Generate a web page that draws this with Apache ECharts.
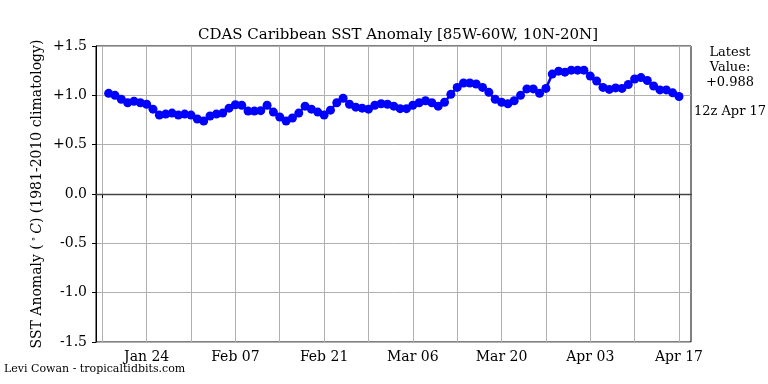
<!DOCTYPE html>
<html>
<head>
<meta charset="utf-8">
<script src="https://cdn.jsdelivr.net/npm/echarts@6/dist/echarts.min.js"></script>
<style>html,body{margin:0;padding:0;background:#fff;}#c{width:768px;height:384px;}</style>
</head>
<body>
<div id="c"></div>
<script>
// Day 0 = Jan 17; values start at day 1 (Jan 18) and end at day 91 (Apr 17)
const firstDay = 1;
const anomaly = [
  1.02, 1.00, 0.96, 0.925, 0.94, 0.925, 0.91, 0.86, 0.80, 0.81,
  0.82, 0.80, 0.81, 0.80, 0.76, 0.74, 0.79, 0.81, 0.82, 0.87,
  0.905, 0.90, 0.84, 0.84, 0.845, 0.90, 0.83, 0.78, 0.74, 0.77,
  0.82, 0.89, 0.86, 0.83, 0.80, 0.85, 0.925, 0.97, 0.91, 0.88,
  0.87, 0.86, 0.90, 0.915, 0.91, 0.89, 0.865, 0.865, 0.90, 0.925,
  0.945, 0.925, 0.89, 0.93, 1.01, 1.08, 1.125, 1.125, 1.115, 1.08,
  1.03, 0.96, 0.93, 0.915, 0.945, 1.00, 1.065, 1.065, 1.02, 1.07,
  1.215, 1.245, 1.235, 1.255, 1.255, 1.255, 1.195, 1.145, 1.08, 1.06,
  1.075, 1.07, 1.11, 1.165, 1.18, 1.15, 1.095, 1.055, 1.055, 1.025,
  0.988
];
const tickLabels = ['', 'Jan 24', '', 'Feb 07', '', 'Feb 21', '', 'Mar 06', '', 'Mar 20', '', 'Apr 03', '', 'Apr 17'];
const yTicks = [-1.5, -1.0, -0.5, 0.0, 0.5, 1.0, 1.5];
const latestValue = '+0.988';
const latestTime = '12z Apr 17';

const seriesData = anomaly.map((v, i) => [firstDay + i, v]);
const font = 'DejaVu Serif';
const grey = '#b0b0b0';

const chart = echarts.init(document.getElementById('c'), null, {renderer: 'canvas'});
chart.setOption({
  animation: false,
  backgroundColor: '#ffffff',
  title: {
    text: 'CDAS Caribbean SST Anomaly [85W-60W, 10N-20N]',
    left: 393, top: 23, textAlign: 'center',
    textStyle: {fontFamily: font, fontSize: 15, fontWeight: 'normal', color: '#000'}
  },
  grid: [
    {left: 96, top: 46, width: 595, height: 296, show: true, borderColor: '#000', borderWidth: 1, backgroundColor: 'transparent'},
    {left: 102.3, top: 46, width: 576.7, height: 296}
  ],
  xAxis: [
    {gridIndex: 0, type: 'value', min: 0, max: 1, axisLine: {show: true, lineStyle: {color: '#000', width: 1}},
     axisTick: {show: false}, axisLabel: {show: false}, splitLine: {show: false}},
    {gridIndex: 1, type: 'value', min: 0, max: 91, interval: 7,
     axisLine: {show: false},
     axisTick: {show: true, length: 4, inside: false, lineStyle: {color: '#000', width: 1}},
     axisLabel: {show: true, margin: 8, fontFamily: font, fontSize: 14, color: '#000',
       formatter: v => tickLabels[Math.round(v / 7)] || ''},
     splitLine: {show: true, lineStyle: {color: grey, width: 1}}}
  ],
  yAxis: [
    {gridIndex: 0, type: 'value', min: yTicks[0], max: yTicks[yTicks.length - 1], interval: 0.5,
     axisLine: {show: true, lineStyle: {color: '#000', width: 1}},
     axisTick: {show: true, length: 4, lineStyle: {color: '#000'}},
     axisLabel: {margin: 9, fontFamily: font, fontSize: 14, color: '#000',
       formatter: v => (v > 0 ? '+' : '') + v.toFixed(1)},
     splitLine: {show: true, lineStyle: {color: [grey, grey, grey, '#444444', grey, grey, grey], width: 1}}},
    {gridIndex: 1, type: 'value', min: yTicks[0], max: yTicks[yTicks.length - 1], show: false}
  ],
  series: [
    {type: 'line', xAxisIndex: 0, yAxisIndex: 0, data: [], silent: true,
     markLine: {silent: true, symbol: 'none', label: {show: false},
       lineStyle: {color: '#444444', width: 1.3, type: 'solid'}, data: [{yAxis: 0}]}},
    {type: 'line', xAxisIndex: 1, yAxisIndex: 1, data: seriesData,
     symbol: 'circle', symbolSize: 9, showSymbol: true, clip: false,
     itemStyle: {color: '#0000ff'}, lineStyle: {color: '#0000ff', width: 2.5}, z: 5}
  ],
  graphic: [
    {type: 'text', x: 37, y: 194, rotation: Math.PI / 2,
     style: {text: '{a|SST Anomaly (}{b|∘}{c|C}{a|) (1981-2010 climatology)}', textAlign: 'center', textVerticalAlign: 'middle',
       rich: {a: {fontFamily: font, fontSize: 14, fill: '#000'}, b: {fontFamily: font, fontSize: 9, fill: '#000', verticalAlign: 'top', padding: [0, 3, 6, 3]},
              c: {fontFamily: font, fontSize: 14, fontStyle: 'italic', fill: '#000'}}}},
    {type: 'text', x: 730, y: 45,
     style: {text: 'Latest\nValue:\n' + latestValue, textAlign: 'center', fontFamily: font, fontSize: 13, lineHeight: 15, fill: '#000'}},
    {type: 'text', x: 730, y: 105,
     style: {text: latestTime, textAlign: 'center', fontFamily: font, fontSize: 13, fill: '#000'}},
    {type: 'text', x: 4, y: 364,
     style: {text: 'Levi Cowan - tropicaltidbits.com', textAlign: 'left', fontFamily: font, fontSize: 11, fill: '#000'}}
  ]
});
</script>
</body>
</html>
